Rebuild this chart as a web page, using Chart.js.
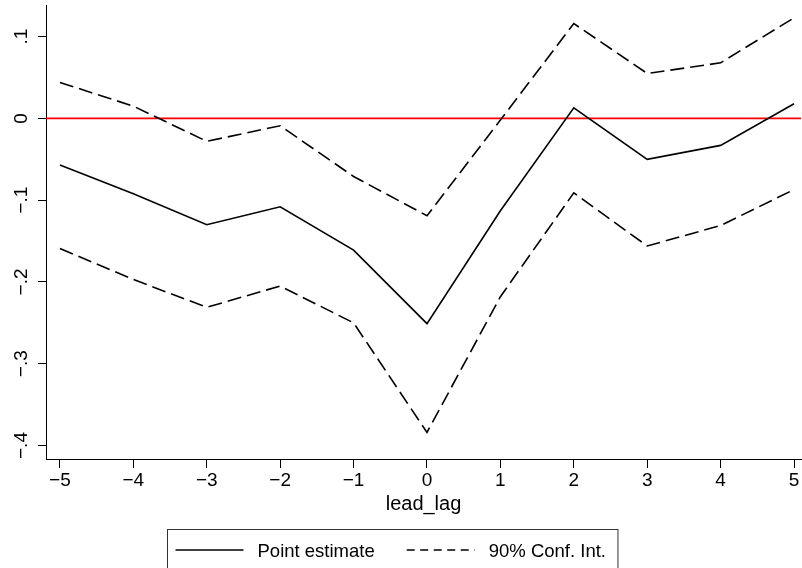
<!DOCTYPE html>
<html>
<head>
<meta charset="utf-8">
<script src="https://cdn.jsdelivr.net/npm/chart.js@4"></script>
<style>
  html, body { margin: 0; padding: 0; background: #fff; }
  #wrap { width: 802px; height: 568px; }
</style>
</head>
<body>
<div id="wrap"><canvas id="chart"></canvas></div>
<script>
// lead/lag coefficients
const leadLag = [-5, -4, -3, -2, -1, 0, 1, 2, 3, 4, 5];
const pointEstimate = [-0.057, -0.092, -0.130, -0.108, -0.161, -0.251, -0.113, 0.013, -0.050, -0.033, 0.018];
const ciUpper = [0.044, 0.015, -0.028, -0.009, -0.071, -0.119, -0.002, 0.116, 0.055, 0.068, 0.123];
const ciLower = [-0.159, -0.197, -0.231, -0.205, -0.250, -0.384, -0.218, -0.091, -0.156, -0.131, -0.087];

const xTicks = [-5, -4, -3, -2, -1, 0, 1, 2, 3, 4, 5];
const xTickLabels = ['−5', '−4', '−3', '−2', '−1', '0', '1', '2', '3', '4', '5'];
const yTicks = [-0.4, -0.3, -0.2, -0.1, 0, 0.1];
const yTickLabels = ['−.4', '−.3', '−.2', '−.1', '0', '.1'];
const refLineValue = 0;
const legendLabels = ['Point estimate', '90% Conf. Int.'];

const FONT = "'Liberation Sans', Arial, Helvetica, sans-serif";
const CI_DASH = [14, 6];

function toPoints(values) {
    return leadLag.map((x, i) => ({ x: x, y: values[i] }));
}

// red horizontal line at zero, under the series
const refLine = {
    id: 'refLine',
    beforeDatasetsDraw(chart) {
        const ctx = chart.ctx, area = chart.chartArea;
        const y = chart.scales.y.getPixelForValue(refLineValue);
        ctx.save();
        ctx.strokeStyle = '#ff0000';
        ctx.lineWidth = 1.8;
        ctx.beginPath();
        ctx.moveTo(area.left, y);
        ctx.lineTo(area.right, y);
        ctx.stroke();
        ctx.restore();
    }
};

// Stata style vertical y labels
const yLabels = {
    id: 'yLabels',
    afterDraw(chart) {
        const ctx = chart.ctx, s = chart.scales.y;
        ctx.save();
        ctx.fillStyle = '#000';
        ctx.font = '19px ' + FONT;
        ctx.textAlign = 'center';
        ctx.textBaseline = 'alphabetic';
        s.ticks.forEach((t, i) => {
            ctx.save();
            ctx.translate(s.right - 19.5, s.getPixelForValue(t.value));
            ctx.rotate(-Math.PI / 2);
            ctx.fillText(yTickLabels[i], 0, 0);
            ctx.restore();
        });
        ctx.restore();
    }
};

// boxed legend below the axis title
const boxLegend = {
    id: 'boxLegend',
    afterDraw(chart) {
        const ctx = chart.ctx;
        const top = 529.5, left = 167.5, rowY = 550;
        ctx.save();
        ctx.font = '18.5px ' + FONT;
        ctx.fillStyle = '#000';
        ctx.textBaseline = 'alphabetic';

        let x = left + 8;
        const items = [
            { label: legendLabels[0], dash: [] },
            { label: legendLabels[1], dash: [8, 5.5] }
        ];
        items.forEach((it, i) => {
            ctx.strokeStyle = '#000';
            ctx.lineWidth = 1.6;
            ctx.setLineDash(it.dash);
            ctx.beginPath();
            ctx.moveTo(x, rowY);
            ctx.lineTo(x + 68, rowY);
            ctx.stroke();
            x += 68 + 14;
            ctx.fillText(it.label, x, rowY + 7);
            x += ctx.measureText(it.label).width + (i === 0 ? 32 : 12);
        });

        ctx.setLineDash([]);
        ctx.strokeStyle = '#333';
        ctx.lineWidth = 1;
        ctx.strokeRect(left, top, x - left, 60);
        ctx.restore();
    }
};

const ctx = document.getElementById('chart').getContext('2d');
new Chart(ctx, {
    type: 'line',
    data: {
        datasets: [
            {
                label: legendLabels[1],
                data: toPoints(ciUpper),
                borderColor: '#000',
                borderWidth: 1.6,
                borderDash: CI_DASH
            },
            {
                label: legendLabels[1],
                data: toPoints(ciLower),
                borderColor: '#000',
                borderWidth: 1.6,
                borderDash: CI_DASH
            },
            {
                label: legendLabels[0],
                data: toPoints(pointEstimate),
                borderColor: '#000',
                borderWidth: 1.6
            }
        ]
    },
    options: {
        responsive: true,
        maintainAspectRatio: false,
        animation: false,
        layout: { padding: { top: 5, right: 1, bottom: 39, left: 0 } },
        elements: {
            point: { radius: 0 },
            line: { tension: 0, fill: false }
        },
        plugins: {
            legend: { display: false },
            tooltip: { enabled: false }
        },
        scales: {
            x: {
                type: 'linear',
                min: -5.19,
                max: 5.095,
                afterBuildTicks: s => { s.ticks = xTicks.map(v => ({ value: v })); },
                afterFit: s => { s.height = 70; },
                grid: { drawOnChartArea: false, drawTicks: true, tickLength: 9, color: '#000' },
                border: { display: true, color: '#000', width: 1 },
                ticks: {
                    color: '#000',
                    font: { family: FONT, size: 19 },
                    padding: 1,
                    maxRotation: 0,
                    autoSkip: false,
                    callback: (v, i) => xTickLabels[i]
                },
                title: {
                    display: true,
                    text: 'lead_lag',
                    color: '#000',
                    font: { family: FONT, size: 20 },
                    padding: { top: 0, bottom: 13 }
                }
            },
            y: {
                type: 'linear',
                min: -0.4165,
                max: 0.1387,
                afterBuildTicks: s => { s.ticks = yTicks.map(v => ({ value: v })); },
                afterFit: s => { s.width = 46; },
                grid: { drawOnChartArea: false, drawTicks: true, tickLength: 8, color: '#000' },
                border: { display: true, color: '#000', width: 1 },
                ticks: { display: false }
            }
        }
    },
    plugins: [refLine, yLabels, boxLegend]
});
</script>
</body>
</html>
